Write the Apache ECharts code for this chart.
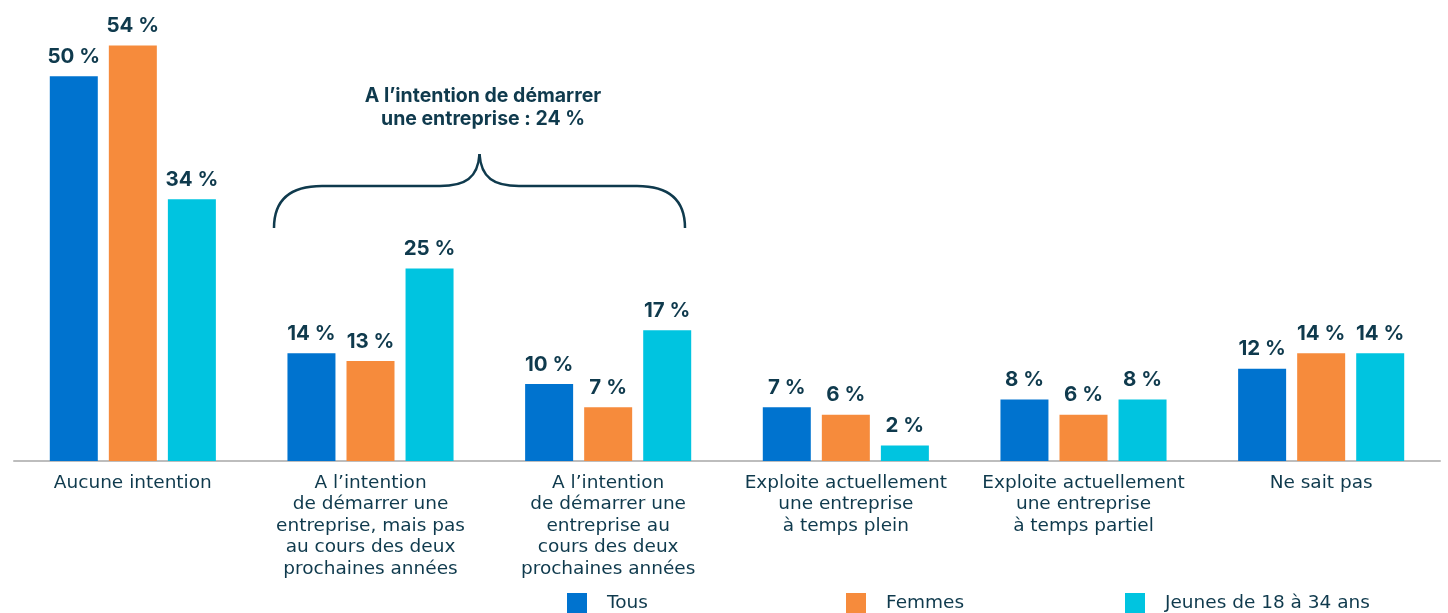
<!DOCTYPE html>
<html><head><meta charset="utf-8">
<script src="https://cdn.jsdelivr.net/npm/echarts@6/dist/echarts.min.js"></script>
<style>html,body{margin:0;padding:0;background:#fff}#c{width:1448px;height:613px}</style>
</head><body><div id="c"></div>
<script>
const categories = [
  "Aucune intention",
  "A l’intention\nde démarrer une\nentreprise, mais pas\nau cours des deux\nprochaines années",
  "A l’intention\nde démarrer une\nentreprise au\ncours des deux\nprochaines années",
  "Exploite actuellement\nune entreprise\nà temps plein",
  "Exploite actuellement\nune entreprise\nà temps partiel",
  "Ne sait pas"
];
const seriesNames = ["Tous", "Femmes", "Jeunes de 18 à 34 ans"];
const tous = [50, 14, 10, 7, 8, 12];
const femmes = [54, 13, 7, 6, 6, 14];
const jeunes = [34, 25, 17, 2, 8, 14];
const braceText = "A l’intention de démarrer\nune entreprise : 24 %";

const colors = ["#0073CF", "#F68B3C", "#00C4E0"];
const textColor = "#0f3a4d";
const FONT = "Inter";
const FONT2 = "DejaVu Sans";

const chart = echarts.init(document.getElementById('c'));
const mk = (name, data, i) => ({
  name, type: 'bar', data, barWidth: 48, barGap: '23%',
  itemStyle: { color: colors[i] },
  label: { show: true, position: 'top', distance: 9, formatter: '{c} %',
    color: textColor, fontFamily: FONT, fontWeight: 'bold', fontSize: 20.5 }
});
const legendItem = (name, left) => ({
  data: [name], left, top: 588, itemWidth: 20, itemHeight: 20, icon: 'rect',
  textStyle: { color: textColor, fontFamily: FONT2, fontSize: 18.5, padding: [0,0,0,15] }
});
const bs = { fill: null, stroke: textColor, lineWidth: 2.5 };
chart.setOption({
  animation: false,
  color: colors,
  grid: { left: 14, right: 8, top: 0, height: 461, containLabel: false },
  xAxis: { type: 'category', data: categories,
    axisLine: { show: true, lineStyle: { color: '#bdbdbd', width: 2 } },
    axisTick: { show: false },
    axisLabel: { color: textColor, fontFamily: FONT2, fontSize: 18.5, lineHeight: 21.5, margin: 11, interval: 0 } },
  yAxis: { type: 'value', min: 0, max: 59.9, show: false, splitLine: { show: false } },
  legend: [legendItem(seriesNames[0], 562), legendItem(seriesNames[1], 841), legendItem(seriesNames[2], 1120)],
  series: [mk(seriesNames[0], tous, 0), mk(seriesNames[1], femmes, 1), mk(seriesNames[2], jeunes, 2)],
  graphic: [
    { type: 'bezierCurve', shape: { x1: 274, y1: 228, cpx1: 274, cpy1: 200, cpx2: 290, cpy2: 186, x2: 322, y2: 186 }, style: bs },
    { type: 'line', shape: { x1: 322, y1: 186, x2: 440, y2: 186 }, style: bs },
    { type: 'bezierCurve', shape: { x1: 440, y1: 186, cpx1: 465, cpy1: 186, cpx2: 478, cpy2: 178, x2: 479.5, y2: 154 }, style: bs },
    { type: 'bezierCurve', shape: { x1: 479.5, y1: 154, cpx1: 481, cpy1: 178, cpx2: 494, cpy2: 186, x2: 519, y2: 186 }, style: bs },
    { type: 'line', shape: { x1: 519, y1: 186, x2: 637, y2: 186 }, style: bs },
    { type: 'bezierCurve', shape: { x1: 637, y1: 186, cpx1: 669, cpy1: 186, cpx2: 685, cpy2: 200, x2: 685, y2: 228 }, style: bs },
    { type: 'text', x: 483, y: 85, style: { text: braceText, fill: textColor, font: 'bold 19.5px "' + FONT + '"',
      textAlign: 'center', lineHeight: 23 } }
  ]
});
</script></body></html>
